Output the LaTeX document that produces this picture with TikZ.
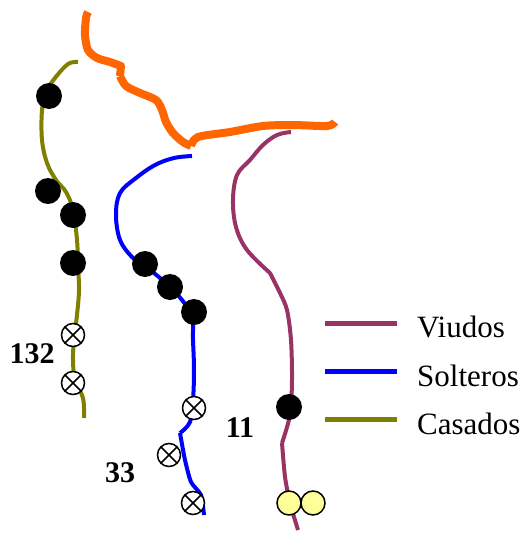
\documentclass[tikz,border=0pt]{standalone}
\usepackage{fontspec}
\setmainfont{Liberation Serif}
\definecolor{viudo}{HTML}{993366}
\definecolor{soltero}{HTML}{0000FF}
\definecolor{casado}{HTML}{808000}
\definecolor{naranja}{HTML}{FF6600}
\definecolor{amarillo}{HTML}{FFFF99}
\tikzset{
  trace/.style={line width=4pt, line join=round},
  fulldot/.style={circle, fill=black, inner sep=0pt, minimum size=26pt},
  crossdot/.style={circle, draw=black, fill=white, line width=1.5pt, inner sep=0pt, minimum size=23pt,
    path picture={\draw[line width=1.5pt] (path picture bounding box.north west) -- (path picture bounding box.south east)
      (path picture bounding box.north east) -- (path picture bounding box.south west);}},
  yellowdot/.style={circle, draw=black, fill=amarillo, line width=1.5pt, inner sep=0pt, minimum size=24pt},
  count/.style={font=\fontsize{30}{34}\selectfont\bfseries},
  legendtext/.style={font=\fontsize{31}{36}\selectfont, anchor=base west, inner sep=0pt},
}
\begin{document}
\begin{tikzpicture}[x=1pt, y=-1pt]
\useasboundingbox (0,0) rectangle (525,533);

% frontier trace
\draw[naranja, line width=8pt, line join=round]
  plot[smooth, tension=0.5] coordinates {(88,12) (86,18) (85,35) (88,50) (97,58) (110,62) (121,66)}
  -- (120,76)
  plot[smooth, tension=0.5] coordinates {(120,76) (126,86) (140,93) (156,100) (162,110) (166,122) (173,133) (183,142) (191,146)}
  plot[smooth, tension=0.5] coordinates {(191,146) (198,137) (230,132) (263,126) (293,125) (327,126) (335,122)};

% Casados
\draw[casado, trace]
  plot[smooth, tension=0.6] coordinates {(78,62) (68,64) (55,78) (46,92) (42,110) (42,140) (47,163) (56,180) (66,192) (73,210) (77,240) (78,265) (79,290) (77,315) (74,340) (73,360) (75,380) (83,398) (84,418)};
\node[fulldot] (c1) at (49,96) {};
\node[fulldot] (c2) at (48,191) {};
\node[fulldot] (c3) at (73,215) {};
\node[fulldot] (c4) at (73,263) {};
\node[crossdot] (c5) at (73,335) {};
\node[crossdot] (c6) at (73,383) {};
\node[count] (n132) at (32,354) {132};

% Solteros
\draw[soltero, trace]
  plot[smooth, tension=0.6] coordinates {(192,156) (174,158) (155,165) (136,178) (120,193) (116,215) (120,240) (132,257) (145,266) (160,278) (171,288) (182,300) (192,316) (193,340) (194,370) (193,400) (190,422) (180,433)}
  plot[smooth, tension=0.4] coordinates {(180,433) (185,460) (191,482) (201,495) (204,515)};
\node[fulldot] (s1) at (145,264) {};
\node[fulldot] (s2) at (170,287) {};
\node[fulldot] (s3) at (194,312) {};
\node[crossdot] (s4) at (194,408) {};
\node[crossdot] (s5) at (169,455) {};
\node[crossdot] (s6) at (193,503) {};
\node[count] (n33) at (120,473) {33};

% Viudos
\draw[viudo, trace]
  plot[smooth, tension=0.6] coordinates {(291,132) (277,135) (263,145) (250,160) (237,175) (233,200) (236,227) (247,250) (270,273)}
  plot[smooth, tension=0.5] coordinates {(270,273) (280,293) (287,310) (291,340) (292,380) (290,415) (282,443)}
  plot[smooth, tension=0.4] coordinates {(282,443) (285,477) (290,503) (298,530)};
\node[fulldot] (v1) at (289,407) {};
\node[yellowdot] (v2) at (289,503) {};
\node[yellowdot] (v3) at (313,503) {};
\node[count] (n11) at (240,428) {11};

% legend
\coordinate (lv0) at (325,323); \coordinate (lv1) at (397,323);
\coordinate (ls0) at (325,371); \coordinate (ls1) at (397,371);
\coordinate (lc0) at (325,419); \coordinate (lc1) at (397,419);
\draw[viudo, line width=5pt] (lv0) -- (lv1);
\draw[soltero, line width=5pt] (ls0) -- (ls1);
\draw[casado, line width=5pt] (lc0) -- (lc1);
\node[legendtext] (tv) at (417,337) {Viudos};
\node[legendtext] (ts) at (417,386) {Solteros};
\node[legendtext] (tc) at (417,434) {Casados};
\end{tikzpicture}
\end{document}
